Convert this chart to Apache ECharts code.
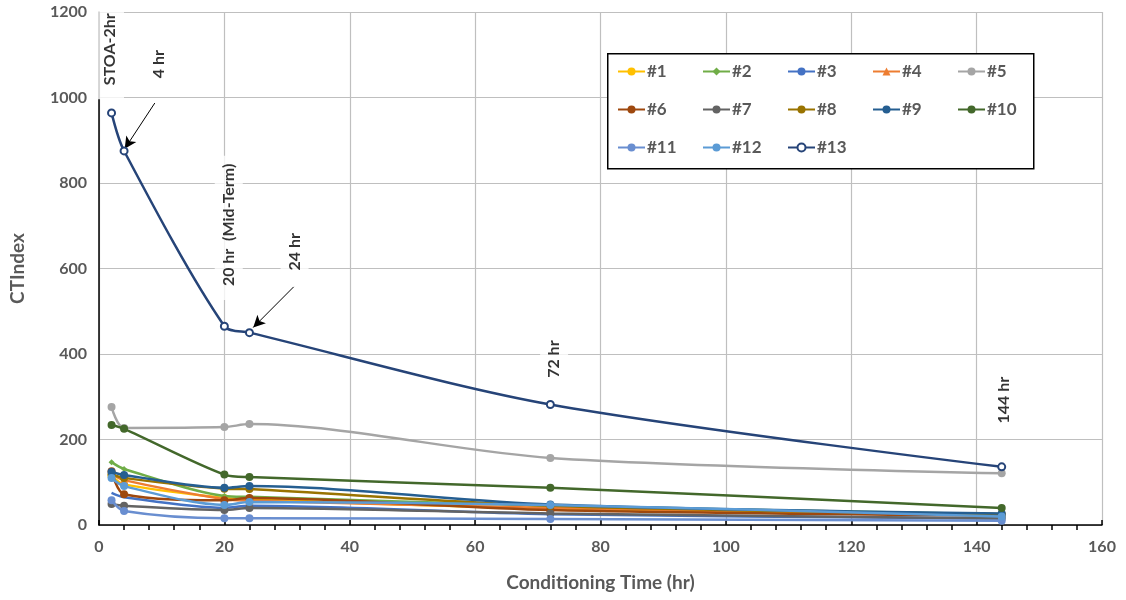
<!DOCTYPE html>
<html><head><meta charset="utf-8">
<script src="https://cdn.jsdelivr.net/npm/echarts@6/dist/echarts.min.js"></script>
<style>html,body{margin:0;padding:0;background:#fff}#c{width:1126px;height:600px}</style>
</head><body><div id="c"></div>
<script>
var times = [2, 4, 20, 24, 72, 144];
var names = ['#1','#2','#3','#4','#5','#6','#7','#8','#9','#10','#11','#12','#13'];
var s1  = [115, 95, 63, 60, 38, 22];
var s2  = [147, 131, 68, 66, 45, 25];
var s3  = [75, 65, 40, 45, 25, 15];
var s4  = [120, 105, 60, 57, 40, 25];
var s5  = [276, 227, 229, 236, 157, 121];
var s6  = [126, 72, 58, 63, 35, 22];
var s7  = [49, 45, 35, 40, 27, 15];
var s8  = [118, 110, 85, 84, 45, 25];
var s9  = [124, 117, 87, 91, 48, 27];
var s10 = [234, 225, 118, 112, 87, 40];
var s11 = [58, 33, 16, 16, 14, 10];
var s12 = [110, 91, 47, 54, 47, 20];
var s13 = [964, 875, 465, 450, 282, 136];
var values = [s1,s2,s3,s4,s5,s6,s7,s8,s9,s10,s11,s12,s13];
var xTicks = [0, 20, 40, 60, 80, 100, 120, 140, 160];
var yTicks = [0, 200, 400, 600, 800, 1000, 1200];
var annoText = ['STOA-2hr', '4 hr', '20 hr  (Mid-Term)', '24 hr', '72 hr', '144 hr'];
var annoPos = [[1.75, 1106], [9.55, 1071], [20.7, 695], [31.2, 632], [72.6, 381], [144.3, 285]];
var arrows = [[[8.9, 987], [4.1, 880]], [[31.05, 557], [24.6, 462]]];

var colors = ['#FFC000','#70AD47','#4472C4','#ED7D31','#A5A5A5','#9E480E','#636363','#997300','#255E91','#43682B','#698ED0','#5B9BD5','#264478'];
var symbols = ['circle','diamond','none','triangle','circle','circle','circle','circle','circle','circle','circle','circle','emptyCircle'];
var sizes = [8,6,0,8,8,8,8,8,8,8,8,8,7];
var font = 'Lato, "Liberation Sans", sans-serif';
var gray = '#595959';

var series = values.map(function (v, i) {
  return {
    name: names[i], type: 'line', smooth: 0.3,
    data: times.map(function (t, j) { return [t, v[j]]; }),
    symbol: symbols[i], symbolSize: sizes[i], showSymbol: true,
    lineStyle: {width: 2.5, color: colors[i]},
    itemStyle: {color: colors[i]},
    z: 2 + i
  };
});
series[12].itemStyle = {color: colors[12], borderWidth: 1.5};

series.push({
  type: 'scatter', name: 'anno', symbolSize: 0, silent: true, z: 20,
  data: annoPos.map(function (p, i) { return {value: p, name: annoText[i]}; }),
  label: {
    show: true, position: 'inside', rotate: 90, formatter: function (p) { return p.name; },
    fontFamily: font, fontWeight: 'bold', fontSize: 16, color: '#000',
    backgroundColor: '#fff', padding: [6, 8, 6, 14]
  }
});
series.push({
  type: 'line', name: 'arrows', data: [], silent: true, z: 21,
  markLine: {
    silent: true, symbol: ['none', 'arrow'], symbolSize: [9, 12],
    lineStyle: {color: '#000', width: 1, type: 'solid'},
    label: {show: false},
    data: arrows.map(function (a) { return [{coord: a[0]}, {coord: a[1]}]; })
  }
});

var legends = names.map(function (n, i) {
  var col = i % 5, row = Math.floor(i / 5);
  return {
    data: [n], left: 617 + col * 85, top: 63 + row * 38,
    itemWidth: 27, itemHeight: 10, itemGap: 2, padding: 0,
    textStyle: {fontFamily: font, fontWeight: 'bold', fontSize: 17, color: gray, padding: [0, 0, 0, -3]}
  };
});

var chart = echarts.init(document.getElementById('c'));
chart.setOption({
  animation: false,
  color: colors,
  grid: {left: 97, right: 24, top: 12, bottom: 75, containLabel: false},
  legend: legends,
  xAxis: {
    type: 'value', min: xTicks[0], max: xTicks[xTicks.length - 1], interval: 20,
    name: 'Conditioning Time (hr)', nameLocation: 'middle', nameGap: 48,
    nameTextStyle: {fontFamily: font, fontWeight: 'bold', fontSize: 19, color: gray},
    axisLine: {lineStyle: {color: '#000', width: 1.5}},
    axisTick: {show: true, inside: true, length: 5, lineStyle: {color: '#000', width: 1.5}},
    minorTick: {show: true, splitNumber: 5, length: -5, lineStyle: {color: '#000', width: 1.5}},
    axisLabel: {fontFamily: font, fontWeight: 'bold', fontSize: 16, color: gray, margin: 14},
    splitLine: {show: true, lineStyle: {color: '#BFBFBF', width: 1.2}}
  },
  yAxis: {
    type: 'value', min: yTicks[0], max: yTicks[yTicks.length - 1], interval: 200,
    name: 'CTIndex', nameLocation: 'middle', nameGap: 72,
    nameTextStyle: {fontFamily: font, fontWeight: 'bold', fontSize: 19, color: gray},
    axisLine: {show: true, lineStyle: {color: '#000', width: 1.5}},
    axisTick: {show: false},
    axisLabel: {fontFamily: font, fontWeight: 'bold', fontSize: 16, color: gray, margin: 12,
      formatter: function (v) { return String(v); }},
    splitLine: {show: true, lineStyle: {color: '#BFBFBF', width: 1.2}}
  },
  graphic: [{
    type: 'rect', left: 607, top: 53, z: 1,
    shape: {width: 426, height: 115},
    style: {fill: '#fff', stroke: '#000', lineWidth: 1.5}
  }],
  series: series
});
</script></body></html>
